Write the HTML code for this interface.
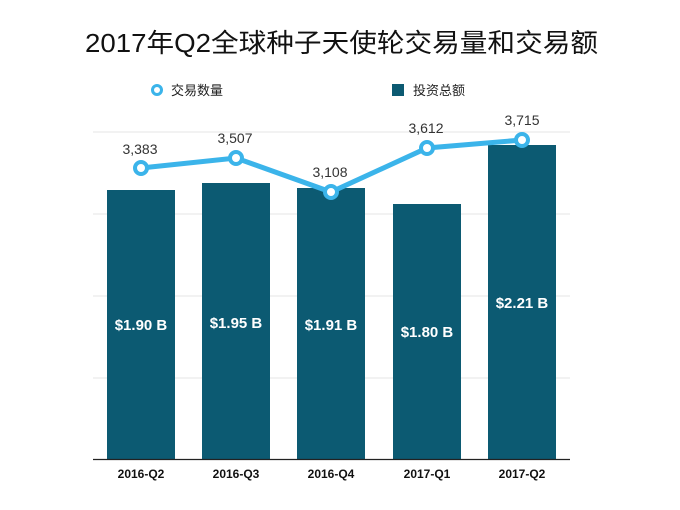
<!DOCTYPE html><html><head><meta charset="utf-8"><style>body{margin:0;background:#fff}</style></head><body>
<svg width="680" height="505" xmlns="http://www.w3.org/2000/svg" font-family="Liberation Sans, Noto Sans CJK SC, sans-serif">
<text x="85" y="52" font-size="26" fill="#111" textLength="513" lengthAdjust="spacingAndGlyphs">2017年Q2全球种子天使轮交易量和交易额</text>
<circle cx="157" cy="90" r="4.5" fill="#fff" stroke="#3bb4ea" stroke-width="3"/>
<text x="171" y="95" font-size="13" fill="#222">交易数量</text>
<rect x="392" y="84" width="12" height="12" fill="#0c5a72"/>
<text x="413" y="95" font-size="13" fill="#222">投资总额</text>
<g stroke="#e6e6e6" stroke-width="1"><line x1="93" y1="132" x2="570" y2="132"/><line x1="93" y1="214" x2="570" y2="214"/><line x1="93" y1="296" x2="570" y2="296"/><line x1="93" y1="378" x2="570" y2="378"/></g>
<g fill="#0c5a72"><rect x="107" y="190" width="68" height="269"/><rect x="202" y="183" width="68" height="276"/><rect x="297" y="188" width="68" height="271"/><rect x="393" y="204" width="68" height="255"/><rect x="488" y="145" width="68" height="314"/></g>
<line x1="93" y1="459.5" x2="570" y2="459.5" stroke="#222" stroke-width="1.2"/>
<g fill="#fff" font-size="15" font-weight="bold" text-anchor="middle"><text x="141" y="330">$1.90 B</text><text x="236" y="328">$1.95 B</text><text x="331" y="330">$1.91 B</text><text x="427" y="337">$1.80 B</text><text x="522" y="308">$2.21 B</text></g>
<polyline points="141,168 236,158 331,192 427,148 522,140" fill="none" stroke="#3bb4ea" stroke-width="5"/>
<g fill="#fff" stroke="#3bb4ea" stroke-width="4"><circle cx="141" cy="168" r="6"/><circle cx="236" cy="158" r="6"/><circle cx="331" cy="192" r="6"/><circle cx="427" cy="148" r="6"/><circle cx="522" cy="140" r="6"/></g>
<g fill="#333" font-size="14" text-anchor="middle"><text x="140" y="154">3,383</text><text x="235" y="143">3,507</text><text x="330" y="177">3,108</text><text x="426" y="133">3,612</text><text x="522" y="125">3,715</text></g>
<g fill="#111" font-size="12" font-weight="bold" text-anchor="middle"><text x="141" y="478">2016-Q2</text><text x="236" y="478">2016-Q3</text><text x="331" y="478">2016-Q4</text><text x="427" y="478">2017-Q1</text><text x="522" y="478">2017-Q2</text></g>
</svg></body></html>
